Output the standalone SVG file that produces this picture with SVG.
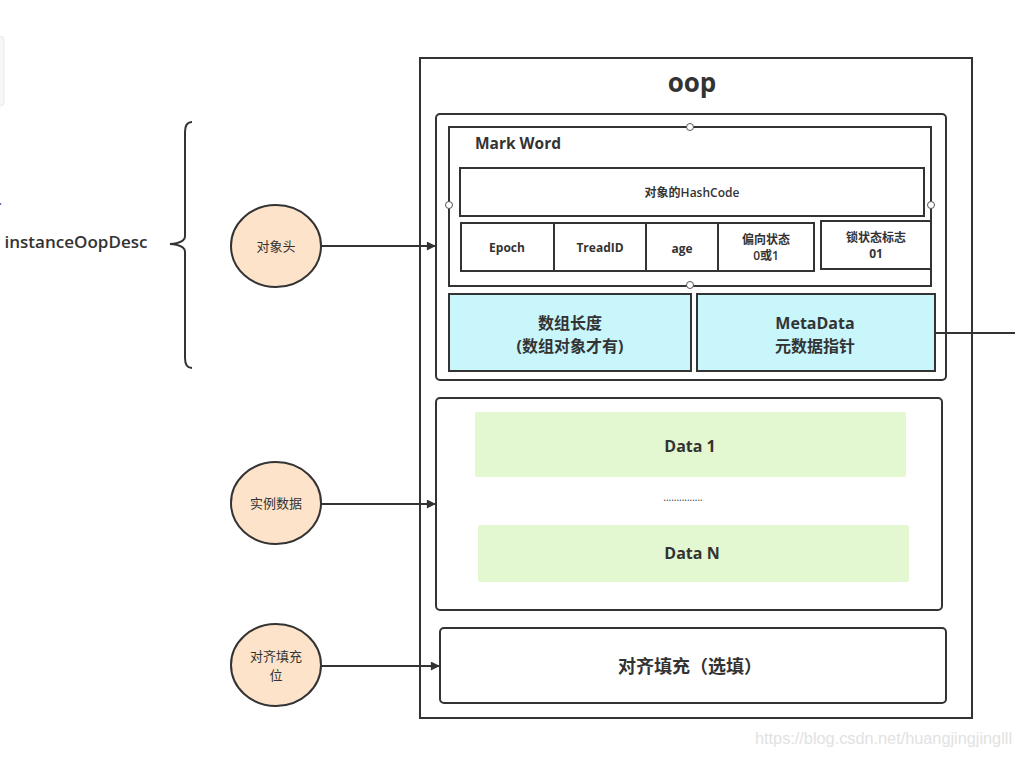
<svg xmlns="http://www.w3.org/2000/svg" width="1015" height="761" viewBox="0 0 1015 761">
<defs>
<style>
.t{font-family:"Open Sans","Noto Sans CJK SC",sans-serif;fill:#333;text-anchor:middle;dominant-baseline:central;font-weight:bold}
.box{fill:#fff;stroke:#333;stroke-width:2}
.cell{fill:#fff;stroke:#333;stroke-width:2}
.cy{fill:#c8f6fb;stroke:#333;stroke-width:2}
.gr{fill:#e3f7d0;stroke:none}
.circ{fill:#fde3c9;stroke:#333;stroke-width:2}
.con{stroke:#333;stroke-width:2;fill:none}
.hd{fill:#fff;stroke:#555;stroke-width:1}
</style>
<marker id="arr" viewBox="0 0 10 10" refX="9" refY="5" markerWidth="10" markerHeight="9" markerUnits="userSpaceOnUse" orient="auto">
<path d="M0,0 L10,5 L0,10 z" fill="#333"/>
</marker>
</defs>
<rect width="1015" height="761" fill="#fff"/>
<rect x="-12" y="36" width="16" height="70" rx="4" fill="#f7f7f7" stroke="#e8e8e8" stroke-width="1"/>
<text x="-2" y="205" font-family="Open Sans,sans-serif" font-size="16" fill="#555">.</text>

<g id="label-instanceOopDesc">
<text class="t" x="76" y="241" font-size="16.5" style="font-weight:600" textLength="143" lengthAdjust="spacingAndGlyphs">instanceOopDesc</text>
</g>
<g id="brace">
<path class="con" d="M192,122 Q185,122 185,132 L185,236 Q185,243 170,244 Q185,245 185,252 L185,358 Q185,368 192,368" stroke-width="1.8"/>
</g>

<g id="oop">
<rect x="420" y="58" width="552" height="660" fill="#fff" stroke="#333" stroke-width="2"/>
<text class="t" x="692" y="82" font-size="26">oop</text>
</g>

<g id="object-header">
<rect class="box" x="436" y="114" width="510" height="266" rx="4"/>
</g>

<g id="mark-word">
<rect class="box" x="449" y="127" width="482" height="159"/>
<text class="t" x="518" y="143" font-size="15.5">Mark Word</text>
<circle class="hd" cx="690" cy="127" r="3.5"/>
<circle class="hd" cx="449" cy="205" r="3.5"/>
<circle class="hd" cx="931" cy="205" r="3.5"/>
<circle class="hd" cx="690" cy="285" r="3.5" stroke="#a06070"/>
</g>

<g id="hashcode">
<rect class="cell" x="460" y="168" width="464" height="48"/>
<text class="t" x="692" y="192" font-size="12" style="font-weight:600">对象的HashCode</text>
</g>

<g id="epoch">
<rect class="cell" x="461" y="223" width="93" height="48"/>
<text class="t" x="507" y="247" font-size="12">Epoch</text>
</g>
<g id="treadid">
<rect class="cell" x="554" y="223" width="92" height="48"/>
<text class="t" x="600" y="247" font-size="12">TreadID</text>
</g>
<g id="age">
<rect class="cell" x="646" y="223" width="72" height="48"/>
<text class="t" x="682" y="248" font-size="12">age</text>
</g>
<g id="biased">
<rect class="cell" x="718" y="223" width="96" height="48"/>
<text class="t" x="766" y="239" font-size="12" style="font-weight:600">偏向状态</text>
<text class="t" x="766" y="255" font-size="12" style="font-weight:600">0或1</text>
</g>
<g id="lock">
<rect class="cell" x="821" y="221" width="110" height="48"/>
<text class="t" x="876" y="237" font-size="12" style="font-weight:600">锁状态标志</text>
<text class="t" x="876" y="253" font-size="12">01</text>
</g>

<g id="array-length">
<rect class="cy" x="449" y="294" width="242" height="77"/>
<text class="t" x="570" y="323" font-size="16">数组长度</text>
<text class="t" x="570" y="346" font-size="16">(数组对象才有)</text>
</g>
<g id="metadata">
<rect class="cy" x="697" y="294" width="238" height="77"/>
<text class="t" x="815" y="323" font-size="16">MetaData</text>
<text class="t" x="815" y="346" font-size="16">元数据指针</text>
</g>

<g id="instance-data">
<rect class="box" x="436" y="398" width="506" height="212" rx="4"/>
</g>
<g id="data1">
<rect class="gr" x="475" y="412" width="431" height="65" rx="2"/>
<text class="t" x="690" y="446" font-size="16">Data 1</text>
</g>
<text class="t" x="683" y="497" font-size="10" style="font-weight:normal" fill="#555">...............</text>
<g id="dataN">
<rect class="gr" x="478" y="525" width="431" height="57" rx="2"/>
<text class="t" x="692" y="553" font-size="16">Data N</text>
</g>

<g id="padding">
<rect class="box" x="440" y="628" width="506" height="75" rx="4"/>
<text class="t" x="690" y="666" font-size="18">对齐填充（选填）</text>
</g>

<g id="c-header">
<ellipse class="circ" cx="276" cy="246" rx="45" ry="41"/>
<text class="t" x="276" y="246" font-size="13" style="font-weight:normal">对象头</text>
</g>
<g id="c-instance">
<ellipse class="circ" cx="276" cy="503" rx="45" ry="41"/>
<text class="t" x="276" y="503" font-size="13" style="font-weight:normal">实例数据</text>
</g>
<g id="c-padding">
<ellipse class="circ" cx="276" cy="665" rx="45" ry="41"/>
<text class="t" x="276" y="656" font-size="13" style="font-weight:normal">对齐填充</text>
<text class="t" x="276" y="675" font-size="13" style="font-weight:normal">位</text>
</g>

<g id="connectors">
<line class="con" x1="321" y1="246" x2="435" y2="246" marker-end="url(#arr)"/>
<line class="con" x1="321" y1="504" x2="435" y2="504" marker-end="url(#arr)"/>
<line class="con" x1="321" y1="666" x2="439" y2="666" marker-end="url(#arr)"/>
<line class="con" x1="935" y1="333" x2="1015" y2="333"/>
</g>

<text x="1012" y="744" font-family="Liberation Sans Narrow,Liberation Sans,sans-serif" font-size="16" fill="#e2e2e2" text-anchor="end" textLength="257" lengthAdjust="spacingAndGlyphs">https://blog.csdn.net/huangjingjinglll</text>
</svg>
